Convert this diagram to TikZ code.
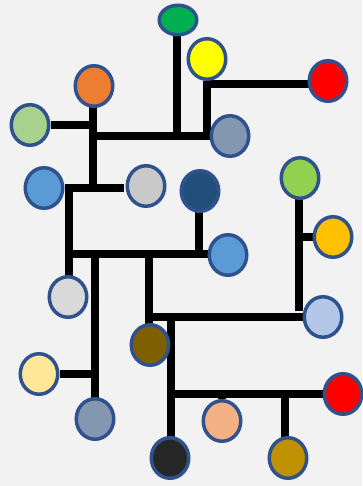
\documentclass[tikz,border=0pt]{standalone}
\usepackage{xcolor}
\usepackage{tikz}
\usetikzlibrary{shapes.geometric}
\definecolor{canvas}{HTML}{F2F2F2}
\definecolor{rim}{HTML}{2F528F}
\definecolor{cgreen}{HTML}{00B050}
\definecolor{cyellow}{HTML}{FFFF00}
\definecolor{cred}{HTML}{FF0000}
\definecolor{corange}{HTML}{ED7D31}
\definecolor{csage}{HTML}{A9D18E}
\definecolor{cslate}{HTML}{8497B0}
\definecolor{cblue}{HTML}{5B9BD5}
\definecolor{csilver}{HTML}{C9C9C9}
\definecolor{cnavy}{HTML}{1F4E79}
\definecolor{clime}{HTML}{92D050}
\definecolor{camber}{HTML}{FFC000}
\definecolor{cpale}{HTML}{D9D9D9}
\definecolor{csky}{HTML}{B4C7E7}
\definecolor{cbrown}{HTML}{7F6000}
\definecolor{ccream}{HTML}{FFE699}
\definecolor{csalmon}{HTML}{F4B183}
\definecolor{cblack}{HTML}{262626}
\definecolor{cgold}{HTML}{BF9000}
\pgfdeclarelayer{back}
\pgfsetlayers{back,main}

\begin{document}
\begin{tikzpicture}[x=1pt,y=-1pt,
  dot/.style={ellipse,draw=rim,line width=3.5pt,minimum width=37.5pt,minimum height=40.5pt,inner sep=0pt},
  bar/.style={line width=8pt,black}]
  \useasboundingbox (0,0) rectangle (362,486);
  % members
  \node[dot,fill=cgreen,minimum height=29.5pt] (green) at (178,20){};
  \node[dot,fill=cyellow] (yellow) at (207,59){};
  \node[dot,fill=cred] (red) at (328,81){};
  \node[dot,fill=corange] (orange) at (94,86){};
  \node[dot,fill=csage] (sage) at (30,125){};
  \node[dot,fill=cslate] (slate) at (230,136){};
  \node[dot,fill=cblue] (blueL) at (44,188){};
  \node[dot,fill=csilver] (silver) at (146,186){};
  \node[dot,fill=cnavy] (navy) at (200,191){};
  \node[dot,fill=clime] (lime) at (300,178){};
  \node[dot,fill=camber] (amber) at (333,237){};
  \node[dot,fill=cblue] (blueM) at (228,255){};
  \node[dot,fill=cpale] (pale) at (68,297){};
  \node[dot,fill=csky] (sky) at (323,317){};
  \node[dot,fill=cbrown] (brown) at (150,345){};
  \node[dot,fill=ccream] (cream) at (39,374){};
  \node[dot,fill=cslate] (slateB) at (95,419){};
  \node[dot,fill=cred] (redB) at (343,394){};
  \node[dot,fill=csalmon] (salmon) at (222,421){};
  \node[dot,fill=cblack] (dark) at (170,458){};
  \node[dot,fill=cgold] (gold) at (288,458){};
  % junctions
  \coordinate (tA) at (93,136);
  \coordinate (tB) at (177,136);
  \coordinate (tC) at (207,84);
  \coordinate (tD) at (93,188);
  \coordinate (tE) at (69,188);
  \coordinate (tF) at (69,254);
  \coordinate (tG) at (95,254);
  \coordinate (tH) at (149,254);
  \coordinate (tI) at (199,254);
  \coordinate (tJ) at (171,317);
  \coordinate (tK) at (171,394);
  \coordinate (tL) at (299,311);
  \coordinate (tM) at (285,394);
  \begin{pgfonlayer}{back}
    \fill[canvas] (0,0) rectangle (362,486);
    \draw[bar] (tB |- green) -- (tB);
    \draw[bar] (tA) -- (slate);
    \draw[bar] (yellow) -- (yellow |- slate);
    \draw[bar] (tC) -- (tC -| red);
    \draw[bar] (tA |- orange) -- (tD);
    \draw[bar] (sage) -- (sage -| tA);
    \draw[bar,shorten >=2pt] (blueL) -- (blueL -| silver.west);
    \draw[bar] (tE) -- (tE |- pale);
    \draw[bar] (tF) -- (tF -| blueM);
    \draw[bar] (tI |- navy) -- (tI);
    \draw[bar] (tG) -- (tG |- slateB);
    \draw[bar] (cream) -- (cream -| tG);
    \draw[bar] (tH) -- (tH |- brown);
    \draw[bar] (tH |- sky) -- (sky);
    \draw[bar] (tJ) -- (tJ |- dark);
    \draw[bar] (tK) -- (redB);
    \draw[bar] (salmon |- tK) -- (salmon);
    \draw[bar] (tM) -- (tM |- gold);
    \draw[bar] (tL |- lime) -- (tL);
    \draw[bar] (tL |- amber) -- (amber);
  \end{pgfonlayer}
\end{tikzpicture}
\end{document}
